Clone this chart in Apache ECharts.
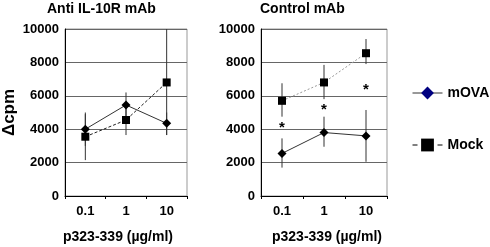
<!DOCTYPE html>
<html>
<head>
<meta charset="utf-8">
<script src="https://cdn.jsdelivr.net/npm/echarts@6/dist/echarts.min.js"></script>
<style>
  html, body { margin: 0; padding: 0; background: #fff; }
  #chart { width: 490px; height: 247px; }
</style>
</head>
<body>
<div id="chart"></div>
<script>
// doses on the x axis
var categories = ['0.1', '1', '10'];

// Anti IL-10R mAb panel
var antiMova = [4000, 5450, 4350];
var antiMock = [3550, 4550, 6800];
var antiMovaErr = [[3000, 5000], [4700, 6200], [3650, 5000]];
var antiMockErr = [[2150, 4900], [3650, 5400], [3650, 10000]];

// Control mAb panel
var ctrlMova = [2550, 3800, 3600];
var ctrlMock = [5700, 6800, 8550];
var ctrlMovaErr = [[1700, 3450], [2950, 4750], [2050, 5150]];
var ctrlMockErr = [[4750, 6750], [5800, 7850], [7900, 9400]];
var ctrlStars = [4200, 5300, 6500];

var font = 'Arial, "Liberation Sans", sans-serif';

function errRows(err) {
    return err.map(function (e, i) { return [i, e[0], e[1]]; });
}

function errorSeries(err, idx) {
    return {
        type: 'custom',
        name: 'err',
        xAxisIndex: idx,
        yAxisIndex: idx,
        z: 1,
        silent: true,
        data: errRows(err),
        encode: { x: 0, y: [1, 2] },
        renderItem: function (params, api) {
            var a = api.coord([api.value(0), api.value(1)]);
            var b = api.coord([api.value(0), api.value(2)]);
            return {
                type: 'line',
                shape: { x1: a[0], y1: a[1], x2: b[0], y2: b[1] },
                style: { stroke: '#333', lineWidth: 1 }
            };
        }
    };
}

function xAxis(idx) {
    return {
        type: 'category',
        gridIndex: idx,
        data: categories,
        axisLine: { lineStyle: { color: '#000', width: 1 } },
        axisTick: { show: true, length: 3, lineStyle: { color: '#000' } },
        axisLabel: { color: '#000', fontWeight: 'bold', fontSize: 13, fontFamily: font, margin: 9 },
        splitLine: { show: false }
    };
}

function yAxis(idx) {
    var ax = {
        type: 'value',
        gridIndex: idx,
        min: 0,
        max: 10000,
        interval: 2000,
        axisLine: { show: true, lineStyle: { color: '#000', width: 1 } },
        axisTick: { show: false },
        axisLabel: {
            color: '#000', fontWeight: 'bold', fontSize: 13, fontFamily: font, margin: 6,
            formatter: function (v) { return String(v); }
        },
        splitLine: { show: true, lineStyle: { color: '#666', width: 1 } }
    };
    if (idx === 0) {
        ax.name = 'Δcpm';
        ax.nameLocation = 'middle';
        ax.nameGap = 47;
        ax.nameTextStyle = { color: '#000', fontWeight: 'bold', fontSize: 17, fontFamily: font };
    }
    return ax;
}

var chart = echarts.init(document.getElementById('chart'), null, { renderer: 'canvas' });

var option = {
    backgroundColor: '#fff',
    animation: false,
    grid: [
        { left: 62, top: 29, width: 125, height: 167, show: true, borderColor: '#999', borderWidth: 1 },
        { left: 261, top: 29, width: 126, height: 167, show: true, borderColor: '#999', borderWidth: 1 }
    ],
    xAxis: [xAxis(0), xAxis(1)],
    yAxis: [yAxis(0), yAxis(1)],
    legend: {
        orient: 'vertical',
        left: 407,
        top: 81,
        itemWidth: 30,
        itemHeight: 16,
        itemGap: 38,
        textStyle: { color: '#000', fontWeight: 'bold', fontSize: 14, fontFamily: font },
        data: [
            { name: 'mOVA', itemStyle: { color: '#000080' }, lineStyle: { color: '#333', width: 1 } },
            { name: 'Mock', itemStyle: { color: '#000' }, lineStyle: { color: '#000', width: 1, type: [5, 20] } }
        ]
    },
    graphic: [
        { type: 'text', left: 105 - 58, top: 2, style: { text: 'Anti IL-10R mAb', fill: '#000', font: 'bold 14px ' + font } },
        { type: 'text', left: 305 - 45, top: 2, style: { text: 'Control mAb', fill: '#000', font: 'bold 14px ' + font } },
        { type: 'text', left: 63, top: 230, style: { text: 'p323-339 (µg/ml)', fill: '#000', font: 'bold 14px ' + font } },
        { type: 'text', left: 272, top: 230, style: { text: 'p323-339 (µg/ml)', fill: '#000', font: 'bold 14px ' + font } }
    ],
    series: [
        errorSeries(antiMovaErr, 0),
        errorSeries(antiMockErr, 0),
        errorSeries(ctrlMovaErr, 1),
        errorSeries(ctrlMockErr, 1),
        {
            name: 'mOVA', type: 'line', xAxisIndex: 0, yAxisIndex: 0, data: antiMova,
            symbol: 'diamond', symbolSize: 9, z: 3,
            itemStyle: { color: '#000' }, lineStyle: { color: '#333', width: 1 }
        },
        {
            name: 'Mock', type: 'line', xAxisIndex: 0, yAxisIndex: 0, data: antiMock,
            symbol: 'rect', symbolSize: 8, z: 3,
            itemStyle: { color: '#000' }, lineStyle: { color: '#222', width: 1, type: [3, 2] }
        },
        {
            name: 'mOVA', type: 'line', xAxisIndex: 1, yAxisIndex: 1, data: ctrlMova,
            symbol: 'diamond', symbolSize: 9, z: 3,
            itemStyle: { color: '#000' }, lineStyle: { color: '#333', width: 1 }
        },
        {
            name: 'Mock', type: 'line', xAxisIndex: 1, yAxisIndex: 1, data: ctrlMock,
            symbol: 'rect', symbolSize: 8, z: 3,
            itemStyle: { color: '#000' }, lineStyle: { color: '#999', width: 1, type: [2, 2] }
        },
        {
            name: 'sig', type: 'custom', xAxisIndex: 1, yAxisIndex: 1, silent: true,
            data: ctrlStars.map(function (v, i) { return [i, v]; }),
            encode: { x: 0, y: 1 },
            renderItem: function (params, api) {
                var p = api.coord([api.value(0), api.value(1)]);
                return {
                    type: 'text',
                    x: p[0], y: p[1] + 2,
                    style: { text: '*', fill: '#000', font: 'bold 15px ' + font, align: 'center', verticalAlign: 'middle' }
                };
            }
        }
    ]
};

chart.setOption(option);
</script>
</body>
</html>
